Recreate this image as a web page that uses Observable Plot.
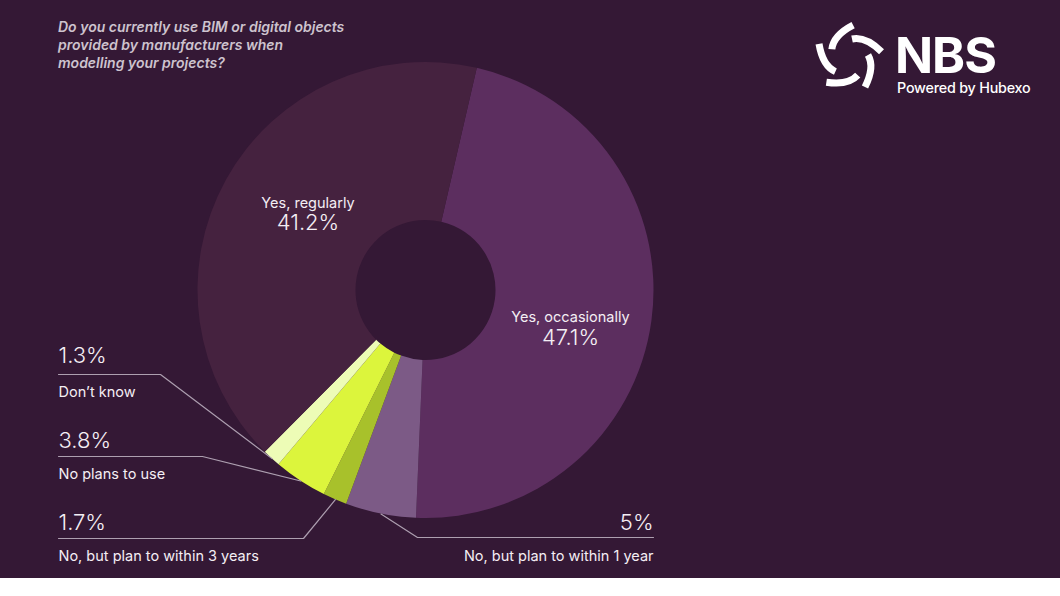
<!DOCTYPE html>
<html>
<head>
<meta charset="utf-8">
<script src="https://cdn.jsdelivr.net/npm/d3@7"></script>
<script src="https://cdn.jsdelivr.net/npm/@observablehq/plot@0.6"></script>
<style>
  html, body { margin: 0; padding: 0; background: #ffffff; }
  #wrap { position: relative; width: 1060px; height: 578px; background: #341835; overflow: hidden; font-family: Inter, "Noto Sans", sans-serif; }
  #chart { position: absolute; left: 0; top: 0; }
  #title { position: absolute; left: 58px; top: 18px; color: #cdc3ce; font-size: 14px; line-height: 18px; font-style: italic; font-weight: 600; letter-spacing: 0; }
  #logo { position: absolute; left: 0; top: 0; }
</style>
</head>
<body>
<div id="wrap">
  <div id="chart"></div>
  <div id="title">Do you currently use BIM or digital objects<br>provided by manufacturers when<br>modelling your projects?</div>
  <svg id="logo" width="1060" height="120"></svg>
</div>
<script>
// ---- data ----
const categories = ["Yes, occasionally", "No, but plan to within 1 year", "No, but plan to within 3 years", "No plans to use", "Don\u2019t know", "Yes, regularly"];
const shares = [47.1, 5, 1.7, 3.8, 1.3, 41.2];
const valueLabels = ["47.1%", "5%", "1.7%", "3.8%", "1.3%", "41.2%"];
const sliceColors = ["#5c2e5f", "#7c5a86", "#a8c12b", "#dcf53c", "#edfcb6", "#45223f"];

// ---- layout (pixels) ----
const CX = 425.5, CY = 290, R = 228, HOLE = 70 / 228;
const START = 13 * Math.PI / 180;
const ux = px => (px - CX) / R;
const uy = py => (CY - py) / R;

// outside labels: category index, label x, knee x, line y, value baseline, name baseline
const outsideLeft = [
  {i: 4, x: 58, knee: 160, line: 374, vy: 362, ny: 396},
  {i: 3, x: 58, knee: 202, line: 456, vy: 447, ny: 478},
  {i: 2, x: 58, knee: 303, line: 538, vy: 529, ny: 560}
];
const outsideRight = [
  {i: 1, x: 653, knee: 417, line: 537, vy: 529, ny: 560}
];
// inside labels
const inside = [
  {i: 0, x: 570, vy: 344, ny: 321},
  {i: 5, x: 307.5, vy: 229, ny: 207}
];

const arcs = d3.pie().sort(null).value(d => d).startAngle(START).endAngle(START + 2 * Math.PI)(shares);
const midAngle = i => (arcs[i].startAngle + arcs[i].endAngle) / 2;

// leader line points: slice mid-point on the rim -> knee -> label end
const leaders = [...outsideLeft, ...outsideRight].flatMap(o => {
  const a = midAngle(o.i);
  return [
    {cat: categories[o.i], x: Math.sin(a), y: Math.cos(a)},
    {cat: categories[o.i], x: ux(o.knee), y: uy(o.line)},
    {cat: categories[o.i], x: ux(o.x), y: uy(o.line)}
  ];
});

function donut(index, scales, values, dimensions, context) {
  const sx = typeof scales.x === "function" ? scales.x : scales.scales.x.apply;
  const sy = typeof scales.y === "function" ? scales.y : scales.scales.y.apply;
  const cx = sx(0), cy = sy(0), r = sx(1) - sx(0);
  const arc = d3.arc().innerRadius(r * HOLE).outerRadius(r);
  const g = d3.create("svg:g").attr("transform", `translate(${cx},${cy})`);
  g.selectAll("path").data(arcs).join("path")
    .attr("d", arc)
    .attr("fill", (d, i) => sliceColors[i]);
  return g.node();
}

const valueText = {fill: "#f4eef4", fontSize: 22, fontWeight: 300, lineAnchor: "bottom"};
const nameText = {fill: "#f4eef4", fontSize: 14.5, fontWeight: 400, lineAnchor: "bottom"};

const chart = Plot.plot({
  width: 1060,
  height: 578,
  margin: 0,
  x: {domain: [-1, 1], range: [CX - R, CX + R], axis: null},
  y: {domain: [-1, 1], range: [CY + R, CY - R], axis: null},
  style: {background: "transparent", overflow: "visible", fontFamily: "Inter, 'Noto Sans', sans-serif"},
  marks: [
    donut,
    Plot.line(leaders, {x: "x", y: "y", z: "cat", stroke: "#ad9fb0", strokeWidth: 1.2, curve: "linear"}),
    Plot.text(outsideLeft, {x: o => ux(o.x), y: o => uy(o.vy), text: o => valueLabels[o.i], textAnchor: "start", ...valueText}),
    Plot.text(outsideLeft, {x: o => ux(o.x), y: o => uy(o.ny), text: o => categories[o.i], textAnchor: "start", ...nameText}),
    Plot.text(outsideRight, {x: o => ux(o.x), y: o => uy(o.vy), text: o => valueLabels[o.i], textAnchor: "end", ...valueText}),
    Plot.text(outsideRight, {x: o => ux(o.x), y: o => uy(o.ny), text: o => categories[o.i], textAnchor: "end", ...nameText}),
    Plot.text(inside, {x: o => ux(o.x), y: o => uy(o.vy), text: o => valueLabels[o.i], textAnchor: "middle", ...valueText}),
    Plot.text(inside, {x: o => ux(o.x), y: o => uy(o.ny), text: o => categories[o.i], textAnchor: "middle", ...nameText})
  ]
});
document.getElementById("chart").appendChild(chart);

// ---- logo (decorative) ----
const logo = d3.select("#logo");
const star = logo.append("g").attr("transform", "translate(849,58)");
for (let k = 0; k < 5; k++) {
  star.append("path")
    .attr("d", "M19,-3 Q26,9 16,29")
    .attr("transform", `rotate(${-72 * k})`)
    .attr("fill", "none")
    .attr("stroke", "#ffffff")
    .attr("stroke-width", 7);
}
logo.append("text").attr("x", 895).attr("y", 73)
  .attr("fill", "#ffffff").attr("font-size", 50).attr("font-weight", 700)
  .attr("letter-spacing", -1).attr("font-family", "Inter, sans-serif").text("NBS");
logo.append("text").attr("x", 897).attr("y", 93)
  .attr("fill", "#ffffff").attr("font-size", 14.3).attr("font-weight", 500)
  .attr("letter-spacing", -0.2).attr("font-family", "Inter, sans-serif").text("Powered by Hubexo");
</script>
</body>
</html>
